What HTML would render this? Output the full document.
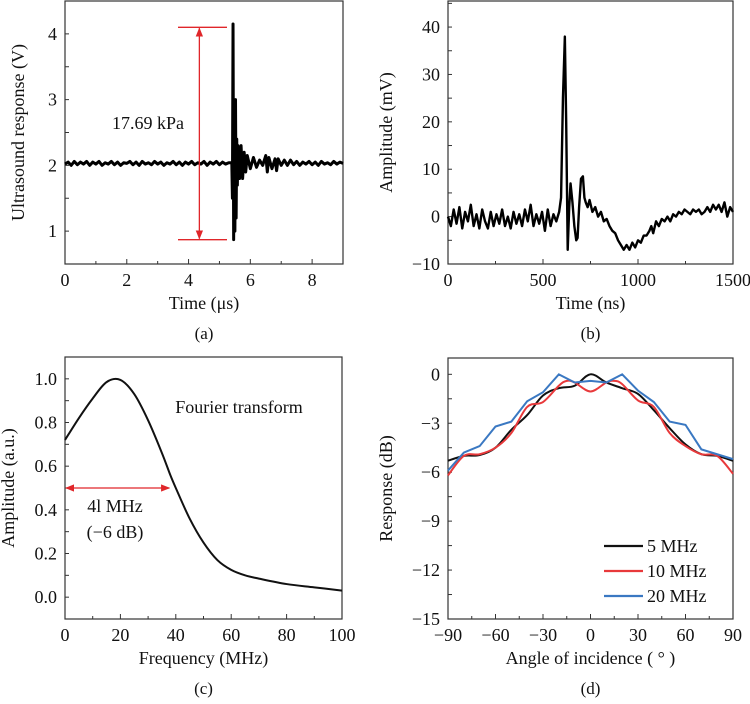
<!DOCTYPE html>
<html><head><meta charset="utf-8"><style>
body{margin:0;background:#fff}
svg{display:block}
svg text{font-family:"Liberation Serif","DejaVu Serif",serif}
</style></head><body>
<svg id="fig" width="750" height="704" viewBox="0 0 750 704" xmlns="http://www.w3.org/2000/svg" font-family="Liberation Serif, serif">
<defs>
<marker id="arr" viewBox="0 0 10 10" refX="9" refY="5" markerWidth="7" markerHeight="7" orient="auto-start-reverse"><path d="M0,1 L10,5 L0,9 Z" fill="#e0262a"/></marker>
</defs>
</svg>
<script>
// ---- panel a data ----
const aT=[0,0.1,0.2,0.3,0.4,0.5,0.6,0.7,0.8,0.9,1.0,1.1,1.2,1.3,1.4,1.5,1.6,1.7,1.8,1.9,2.0,2.1,2.2,2.3,2.4,2.5,2.6,2.7,2.8,2.9,3.0,3.1,3.2,3.3,3.4,3.5,3.6,3.7,3.8,3.9,4.0,4.1,4.2,4.3,4.4,4.5,4.6,4.7,4.8,4.9,5.0,5.1,5.2,5.3,5.4,5.42,5.44,5.46,5.48,5.5,5.52,5.54,5.56,5.58,5.6,5.65,5.7,5.75,5.8,5.85,5.9,6.0,6.1,6.2,6.3,6.4,6.5,6.55,6.6,6.7,6.8,6.85,6.9,7.0,7.1,7.2,7.3,7.4,7.5,7.6,7.7,7.8,7.9,8.0,8.1,8.2,8.3,8.4,8.5,8.6,8.7,8.8,8.9,9.0];
const aV=[2.02,2.05,2.0,2.06,2.01,2.05,2.02,2.06,2.0,2.05,2.02,2.06,2.0,2.04,2.02,2.06,2.01,2.05,2.0,2.04,2.03,2.06,2.01,2.05,2.0,2.06,2.02,2.04,2.01,2.06,2.02,2.05,2.0,2.04,2.02,2.06,2.01,2.05,2.0,2.05,2.02,2.06,2.01,2.04,2.02,2.06,2.0,2.05,2.02,2.06,2.01,2.05,2.02,2.04,2.04,1.5,4.15,0.87,3.0,1.0,3.0,1.2,2.4,1.7,2.3,1.8,2.3,1.8,2.2,1.9,2.15,1.95,2.12,1.97,2.08,2.0,2.15,1.9,2.12,1.95,2.1,1.92,2.1,2.0,2.08,2.0,2.08,2.01,2.06,2.0,2.05,2.02,2.06,2.01,2.05,2.0,2.06,2.02,2.04,2.01,2.06,2.02,2.05,2.03];
// ---- panel b data ----
const bT=[0,15,30,45,60,75,90,105,120,135,150,165,180,195,210,225,240,255,270,285,300,315,330,345,360,375,390,405,420,435,450,465,480,495,510,525,540,555,570,585,595,605,615,622,630,638,645,655,665,675,682,690,700,710,718,725,735,745,760,775,790,805,820,835,850,865,880,895,910,925,940,955,970,985,1000,1015,1030,1045,1060,1070,1080,1095,1110,1125,1140,1155,1170,1185,1200,1215,1230,1245,1260,1275,1290,1305,1320,1335,1350,1365,1380,1395,1410,1425,1440,1455,1470,1485,1500];
const bV=[0,-2,1.5,-1.5,2,-2.5,1,-1,2.5,-2,0.5,-2.5,1.5,-1,-2.5,1,-2,0.5,-1.5,1.5,-2,0,-2.5,1,-1.5,0.5,-2,1.5,-1,2.5,-2,0.5,-1.5,1,-3,1.5,-2,0.5,-1,1,4,25,38,20,-7,2,7,3,-2,-5,-4.5,2,8,8.5,4,3,2,3.5,1,2,0,1,-1,-0.5,-2,-3,-3.5,-5,-6,-7,-6,-7,-5.5,-6.5,-5,-5.5,-4,-4,-3,-2,-3.5,-1,-2,-0.5,-1,0,-1,0.5,0,1,0.5,1.5,1,0.5,1.5,1,1.5,0.5,1,2,1,2.5,1.5,2.5,1,3,0,2,1];
// ---- panel c data ----
const cF=[0,5,10,15,20,25,30,35,38,40,45,50,55,60,65,70,80,90,100];
const cA=[0.72,0.82,0.91,0.985,0.995,0.93,0.81,0.66,0.56,0.5,0.36,0.25,0.17,0.125,0.1,0.085,0.06,0.045,0.03];
// ---- panel d data ----
const dAng=[-90,-80,-70,-60,-50,-40,-30,-20,-10,0,10,20,30,40,50,60,70,80,90];
const d5=[-5.3,-5.0,-4.95,-4.5,-3.4,-2.5,-1.3,-0.85,-0.7,0,-0.5,-0.85,-1.2,-2.2,-3.3,-4.3,-4.9,-5.0,-5.3];
const dAngR=[-90,-80,-70,-60,-50,-40,-30,-20,-15,-10,0,10,15,20,30,40,50,60,70,80,90];
const d10=[-6.2,-5.0,-4.9,-4.5,-3.6,-2.0,-1.7,-0.7,-0.4,-0.5,-1.05,-0.5,-0.4,-0.6,-1.6,-2.0,-3.6,-4.4,-4.9,-5.0,-6.1];
const d20=[-5.9,-4.8,-4.4,-3.2,-2.9,-1.65,-1.1,0,-0.5,-0.4,-0.5,0,-1.0,-1.7,-2.9,-3.1,-4.6,-4.9,-5.2];

const NS="http://www.w3.org/2000/svg";
const svg=document.getElementById('fig');
function mk(tag,attrs,parent){const e=document.createElementNS(NS,tag);for(const k in attrs)e.setAttribute(k,attrs[k]);(parent||svg).appendChild(e);return e;}
function txt(s,x,y,size,anchor,parent,rot){const e=mk('text',{x:x,y:y,'font-size':size,'text-anchor':anchor||'middle',fill:'#111','font-family':'Liberation Serif, serif'},parent);if(rot)e.setAttribute('transform','rotate(-90 '+x+' '+y+')');e.textContent=s;return e;}
function smooth(pts){let d='M'+pts[0][0]+','+pts[0][1];for(let i=0;i<pts.length-1;i++){const p0=pts[Math.max(0,i-1)],p1=pts[i],p2=pts[i+1],p3=pts[Math.min(pts.length-1,i+2)];const c1=[p1[0]+(p2[0]-p0[0])/6,p1[1]+(p2[1]-p0[1])/6],c2=[p2[0]-(p3[0]-p1[0])/6,p2[1]-(p3[1]-p1[1])/6];d+=' C'+c1+' '+c2+' '+p2;}return d;}
function poly(pts){return 'M'+pts.map(p=>p[0]+','+p[1]).join(' L');}

function panel(o){
  const g=mk('g',{});
  
  
  const sx=v=>o.x0+(v-o.xmin)/(o.xmax-o.xmin)*(o.x1-o.x0);
  const sy=v=>o.y1-(v-o.ymin)/(o.ymax-o.ymin)*(o.y1-o.y0);
  const ax=mk('g',{stroke:'#333','stroke-width':1},g);
  
  
  for(let v=o.xmin;v<=o.xmax+1e-9;v+=o.xminor){const X=sx(v);const maj=Math.abs(Math.round((v-o.xmin)/o.xmajor)*o.xmajor-(v-o.xmin))<1e-6;mk('line',{x1:X,x2:X,y1:o.y1,y2:o.y1-(maj?5:3)},ax);}
  for(let v=o.yfirst;v<=o.ymax+1e-9;v+=o.yminor){const Y=sy(v);mk('line',{x1:o.x0,x2:o.x0+4,y1:Y,y2:Y},ax);}
  mk('rect',{x:o.x0,y:o.y0,width:o.x1-o.x0,height:o.y1-o.y0,fill:'none',stroke:'#333','stroke-width':1.2},ax);
  o.xticks.forEach(v=>{const t=txt(String(v).replace('-','\u2212'),sx(v),o.y1+22,18,'middle',g);});
  o.yticks.forEach(v=>{const t=txt(o.yfmt(v).replace('-','\u2212'),o.x0-8,sy(v)+6,18,'end',g);});
  const xt=txt(o.xtitle,(o.x0+o.x1)/2,o.y1+45,18,'middle',g);
  
  
  const yt=txt(o.ytitle,o.ytx,(o.y0+o.y1)/2,18,'middle',g,true);
  
  
  const lab=txt(o.label,(o.x0+o.x1)/2,o.y1+75,17,'middle',g);
  
  
  return {g,sx,sy};
}

// Panel a
const A=panel({name:'panel-a',x0:65,x1:343,y0:1,y1:264,xmin:0,xmax:9,ymin:0.5,ymax:4.5,xminor:1,xmajor:2,yfirst:1,yminor:0.5,xticks:[0,2,4,6,8],yticks:[1,2,3,4],yfmt:v=>String(v),xtitle:'Time (\u03bcs)',ytitle:'Ultrasound response (V)',ytx:24,label:'(a)'});
const la=mk('path',{d:poly(aT.map((t,i)=>[A.sx(t),A.sy(aV[i])])),fill:'none',stroke:'#000','stroke-width':3,'stroke-linejoin':'round'},A.g);


const ra=mk('g',{stroke:'#e0262a','stroke-width':1.3},A.g);


mk('line',{x1:178,x2:227,y1:A.sy(4.1),y2:A.sy(4.1)},ra);
mk('line',{x1:178,x2:227,y1:A.sy(0.87),y2:A.sy(0.87)},ra);
mk('line',{x1:A.sx(4.35),x2:A.sx(4.35),y1:A.sy(4.1)+1,y2:A.sy(0.87)-1,'marker-start':'url(#arr)','marker-end':'url(#arr)'},ra);
const pa=txt('17.69 kPa',148,129,18,'middle',A.g);



// Panel b
const B=panel({name:'panel-b',x0:448,x1:733,y0:1,y1:264,xmin:0,xmax:1500,ymin:-10,ymax:45.5,xminor:250,xmajor:500,yfirst:-10,yminor:5,xticks:[0,500,1000,1500],yticks:[-10,0,10,20,30,40],yfmt:v=>String(v),xtitle:'Time (ns)',ytitle:'Amplitude (mV)',ytx:392,label:'(b)'});
const lb=mk('path',{d:poly(bT.map((t,i)=>[B.sx(t),B.sy(bV[i])])),fill:'none',stroke:'#000','stroke-width':2.4,'stroke-linejoin':'round'},B.g);



// Panel c
const C=panel({name:'panel-c',x0:65,x1:342,y0:357,y1:619,xmin:0,xmax:100,ymin:-0.1,ymax:1.1,xminor:10,xmajor:20,yfirst:0,yminor:0.1,xticks:[0,20,40,60,80,100],yticks:[0,0.2,0.4,0.6,0.8,1.0],yfmt:v=>v.toFixed(1),xtitle:'Frequency (MHz)',ytitle:'Amplitude (a.u.)',ytx:14,label:'(c)'});
const lc=mk('path',{d:smooth(cF.map((f,i)=>[C.sx(f),C.sy(cA[i])])),fill:'none',stroke:'#111','stroke-width':2},C.g);


const rc=mk('line',{x1:C.sx(0)+1,x2:C.sx(38)-1,y1:C.sy(0.5),y2:C.sy(0.5),stroke:'#e0262a','stroke-width':1.3,'marker-start':'url(#arr)','marker-end':'url(#arr)'},C.g);


const t1=txt('4l MHz',115,512,18,'middle',C.g);


const t2=txt('(\u22126 dB)',115,538,18,'middle',C.g);


const t3=txt('Fourier transform',239,413,18,'middle',C.g);



// Panel d
const D=panel({name:'panel-d',x0:448,x1:733,y0:358,y1:619,xmin:-90,xmax:90,ymin:-15,ymax:1,xminor:15,xmajor:30,yfirst:-15,yminor:1.5,xticks:[-90,-60,-30,0,30,60,90],yticks:[-15,-12,-9,-6,-3,0],yfmt:v=>String(v),xtitle:'Angle of incidence ( \u00b0 )',ytitle:'Response (dB)',ytx:392,label:'(d)'});
const l5=mk('path',{d:smooth(dAng.map((a,i)=>[D.sx(a),D.sy(d5[i])])),fill:'none',stroke:'#111','stroke-width':2},D.g);


const l10=mk('path',{d:smooth(dAngR.map((a,i)=>[D.sx(a),D.sy(d10[i])])),fill:'none',stroke:'#e8393b','stroke-width':2},D.g);


const l20=mk('path',{d:poly(dAng.map((a,i)=>[D.sx(a),D.sy(d20[i])])),fill:'none',stroke:'#3a78c2','stroke-width':2},D.g);


const legNames=['5 MHz','10 MHz','20 MHz'];
const legCols=['#111','#e8393b','#3a78c2'];
legNames.forEach((n,i)=>{
  const lg=mk('g',{},D.g);
  
  
  const y=546+i*25;
  mk('line',{x1:604,x2:643,y1:y,y2:y,stroke:legCols[i],'stroke-width':2.2},lg);
  txt(n,647,y+6,18,'start',lg);
});
</script>
</body></html>
